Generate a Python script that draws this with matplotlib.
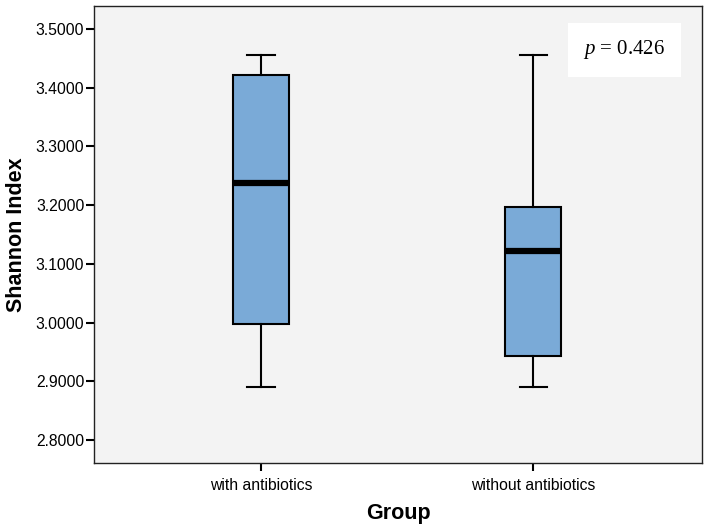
import matplotlib.pyplot as plt

plt.rcParams['font.family'] = ['Liberation Sans', 'DejaVu Sans']
plt.rcParams['mathtext.fontset'] = 'custom'
plt.rcParams['mathtext.it'] = 'Liberation Serif:italic'
plt.rcParams['mathtext.rm'] = 'Liberation Serif'

# Values
groups = ['with antibiotics', 'without antibiotics']
whislo = [2.890, 2.890]
q1 = [2.997, 2.944]
med = [3.237, 3.122]
q3 = [3.422, 3.197]
whishi = [3.455, 3.455]
p_text = '$p$ = 0.426'

stats = [dict(label=groups[i], whislo=whislo[i], q1=q1[i], med=med[i],
              q3=q3[i], whishi=whishi[i], fliers=[]) for i in range(len(groups))]

fig = plt.figure(figsize=(7.07, 5.3), dpi=100)
ax = fig.add_axes([0.133, 0.1264, 0.860, 0.8623])
ax.set_facecolor('#f3f3f3')

ax.bxp(stats, positions=[1, 2], widths=0.206, patch_artist=True,
       boxprops=dict(facecolor='#7aaad7', edgecolor='black', linewidth=1.5),
       medianprops=dict(color='black', linewidth=4.5, solid_capstyle='butt'),
       whiskerprops=dict(color='black', linewidth=1.5),
       capprops=dict(color='black', linewidth=1.5),
       capwidths=0.1, showfliers=False)

ax.set_xlim(0.386, 2.621)
ax.set_ylim(2.761, 3.539)
ax.set_yticks([2.8, 2.9, 3.0, 3.1, 3.2, 3.3, 3.4, 3.5])
ax.set_yticklabels(['%.4f' % v for v in ax.get_yticks()])
ax.set_xticks([1, 2])
ax.set_xticklabels(groups)
ax.tick_params(direction='out', length=6, width=1.5, labelsize=11.3, colors='black')
ax.tick_params(axis='y', pad=1)
ax.tick_params(axis='x', pad=5)
for s in ax.spines.values():
    s.set_linewidth(1.0)
    s.set_color('#222222')

ax.set_xlabel('Group', fontsize=15.5, fontweight='bold', labelpad=7)
ax.set_ylabel('Shannon Index', fontsize=15.5, fontweight='bold', labelpad=6)

# p-value box
ax.text(0.872, 0.904, p_text, transform=ax.transAxes, ha='center', va='center',
        fontsize=15, family=['Liberation Serif', 'DejaVu Serif'],
        bbox=dict(boxstyle='square,pad=0.75', facecolor='white', edgecolor='none'))

fig.savefig('out.png', dpi=100)
